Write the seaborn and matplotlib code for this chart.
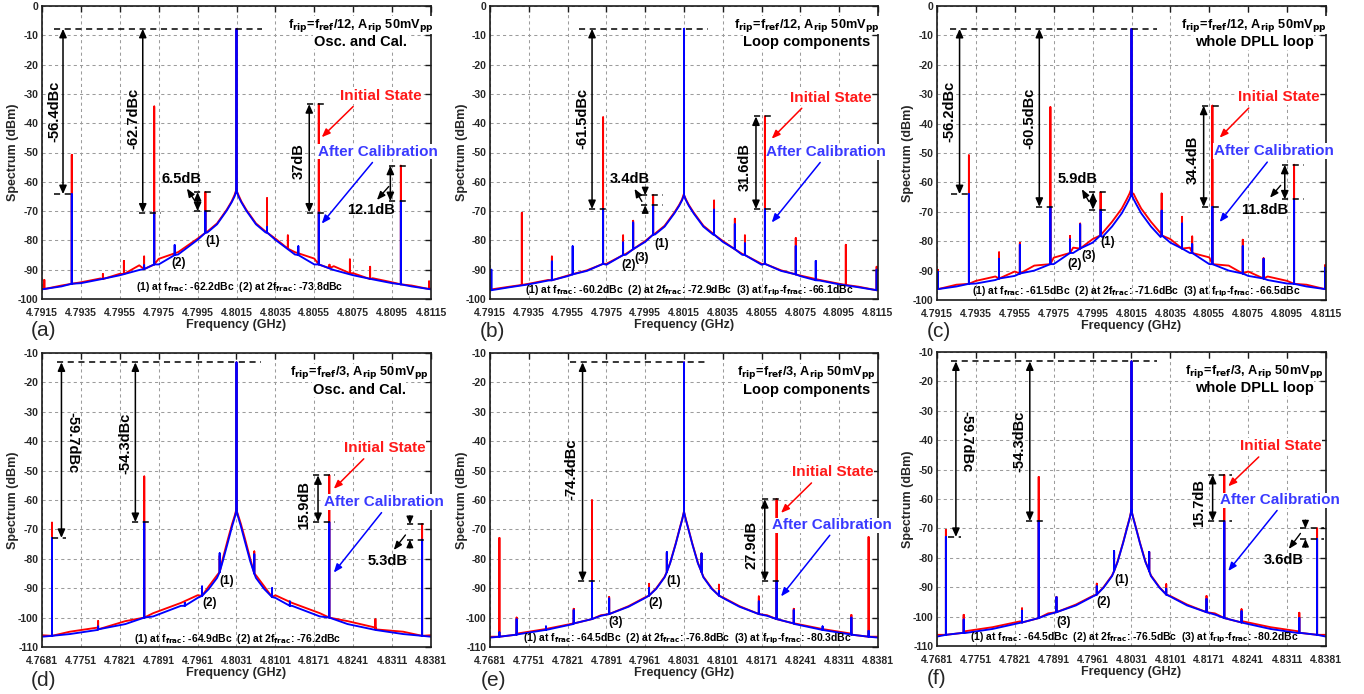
import numpy as np
import pandas as pd
import matplotlib
matplotlib.use("Agg")
import matplotlib.pyplot as plt
import seaborn as sns

nan = np.nan

# ---------------- axes data ----------------
TOP_CENTER = 4.8015   # carrier, GHz (ripple f_ref/12)
BOT_CENTER = 4.8031   # carrier, GHz (ripple f_ref/3)
TOP_XTICKS = ["4.7915", "4.7935", "4.7955", "4.7975", "4.7995", "4.8015",
              "4.8035", "4.8055", "4.8075", "4.8095", "4.8115"]
BOT_XTICKS = ["4.7681", "4.7751", "4.7821", "4.7891", "4.7961", "4.8031",
              "4.8101", "4.8171", "4.8241", "4.8311", "4.8381"]
TOP_YTICKS = [0, -10, -20, -30, -40, -50, -60, -70, -80, -90, -100]
BOT_YTICKS = [-10, -20, -30, -40, -50, -60, -70, -80, -90, -100, -110]

# ---------------- noise floors (offset from carrier in MHz, dBm) ----------------
TOP_FLOOR_OFF = [-10, -9, -8, -7, -6, -5, -4, -3, -2, -1.5, -1, -0.5, -0.25, -0.1, 0,
                 0.1, 0.25, 0.5, 1, 1.5, 2, 3, 4, 5, 6, 7, 8, 9, 10]
A_FLOOR_RED = [-96.4, -95.4, -94.3, -93.0, -91.4, -88.5, -86.3, -84.0, -79.4, -77.0, -74.2, -69.5, -66.7, -64.5, -62.5,
               -64.5, -66.7, -69.5, -74.2, -77.0, -79.4, -84.0, -86.2, -88.8, -91.2, -92.9, -94.3, -95.4, -96.4]
A_FLOOR_BLUE = [-96.7, -95.7, -94.6, -93.3, -91.9, -90.1, -88.2, -84.8, -79.8, -77.3, -74.5, -69.8, -67.0, -65.0, -63.0,
                -65.0, -67.0, -69.8, -74.5, -77.3, -79.8, -84.8, -88.2, -90.1, -91.9, -93.3, -94.6, -95.7, -96.7]
B_FLOOR_RED = [-96.8, -95.8, -94.8, -93.5, -92.0, -90.2, -88.0, -84.6, -80.2, -77.7, -75.0, -70.5, -67.9, -66.0, -64.0,
               -66.0, -67.9, -70.5, -75.0, -77.7, -80.2, -84.6, -88.0, -90.2, -92.0, -93.5, -94.8, -95.8, -96.8]
B_FLOOR_BLUE = [-97.0, -96.0, -95.0, -93.7, -92.2, -90.4, -88.3, -84.9, -80.5, -78.0, -75.3, -70.8, -68.2, -66.3, -64.5,
                -66.3, -68.2, -70.8, -75.3, -78.0, -80.5, -84.9, -88.3, -90.4, -92.2, -93.7, -95.0, -96.0, -97.0]
C_FLOOR_RED = [-96.0, -94.8, -93.5, -92.0, -90.3, -88.3, -85.6, -82.2, -79.3, -77.3, -73.4, -68.9, -65.8, -63.8, -62.0,
               -63.8, -65.8, -68.9, -73.4, -77.3, -79.3, -82.2, -85.5, -88.3, -90.3, -92.0, -93.5, -94.8, -96.0]
C_FLOOR_BLUE = [-96.3, -95.4, -94.4, -93.2, -91.8, -90.0, -87.8, -84.0, -80.5, -78.6, -75.0, -70.5, -67.5, -65.6, -64.0,
                -65.6, -67.5, -70.5, -75.0, -78.6, -80.5, -84.0, -87.8, -90.0, -91.8, -93.2, -94.4, -95.4, -96.3]

BOT_FLOOR_OFF = [-35, -30, -25, -20, -15, -10, -7, -5, -3.5, -2.5, -1.5, -0.8, -0.3, 0,
                 0.3, 0.8, 1.5, 2.5, 3.5, 5, 7, 10, 15, 20, 25, 30, 35]
D_FLOOR_RED = [-106.0, -104.8, -103.4, -101.2, -98.5, -95.0, -92.4, -89.4, -85.6, -80.2, -73.0, -68.2, -65.2, -63.0,
               -65.2, -68.2, -73.0, -80.2, -85.6, -89.4, -92.4, -95.0, -98.5, -101.2, -103.4, -104.8, -106.0]
D_FLOOR_BLUE = [-106.5, -105.6, -104.2, -102.2, -99.6, -96.0, -93.3, -90.3, -86.5, -81.0, -74.0, -69.0, -65.8, -63.5,
                -65.8, -69.0, -74.0, -81.0, -86.5, -90.3, -93.3, -96.0, -99.6, -102.2, -104.2, -105.6, -106.5]
E_FLOOR_RED = [-106.5, -105.4, -103.9, -102.0, -99.2, -96.1, -93.1, -90.0, -86.1, -81.3, -74.8, -69.8, -66.3, -63.8,
               -66.3, -69.8, -74.8, -81.3, -86.1, -90.0, -93.1, -96.1, -99.2, -102.0, -103.9, -105.4, -106.5]
E_FLOOR_BLUE = [-106.8, -105.7, -104.2, -102.2, -99.4, -96.3, -93.3, -90.2, -86.3, -81.5, -75.0, -70.0, -66.5, -64.0,
                -66.5, -70.0, -75.0, -81.5, -86.3, -90.2, -93.3, -96.3, -99.4, -102.2, -104.2, -105.7, -106.8]
F_FLOOR_RED = [-106.2, -105.0, -103.6, -101.6, -98.9, -95.9, -93.0, -89.9, -86.0, -81.2, -74.7, -69.7, -66.2, -63.5,
               -66.2, -69.7, -74.7, -81.2, -86.0, -89.9, -93.0, -95.9, -98.9, -101.6, -103.6, -105.0, -106.2]
F_FLOOR_BLUE = [-106.8, -105.6, -104.2, -102.1, -99.3, -96.2, -93.2, -90.1, -86.2, -81.4, -74.9, -69.9, -66.4, -63.8,
                -66.4, -69.9, -74.9, -81.4, -86.2, -90.1, -93.2, -96.2, -99.3, -102.1, -104.2, -105.6, -106.8]

# ---------------- tones: offset (MHz), peak red / blue (dBm), floor at tone ----------------
A_SPUR_OFF = [-9.88, -8.47, -6.87, -5.79, -4.75, -4.23, -3.18, -1.60, 0.0, 1.57, 2.64, 3.18, 4.23, 4.78, 5.83, 6.87, 8.45, 9.90]
A_SPUR_RED = [-93.5, -50.8, -91.5, -87.0, -85.5, -34.3, nan, -63.5, -7.8, -65.6, -78.3, nan, -33.5, -88.3, -86.5, -89.0, -54.5, -94.0]
A_SPUR_BLUE = [nan, -64.2, nan, nan, -88.5, -70.5, -81.6, -70.0, -7.8, -75.5, nan, -82.0, -70.5, nan, nan, nan, -66.6, nan]
A_SPUR_BASE = [-96.6, -94.8, -93.2, -91.5, -89.8, -88.2, -85.0, -77.4, -63.0, -77.3, -82.8, -85.0, -88.2, -89.5, -91.2, -93.2, -95.0, -96.6]

B_SPUR_OFF = [-9.93, -8.36, -6.81, -5.74, -4.17, -3.14, -2.62, -1.59, 0.0, 1.55, 2.62, 3.14, 4.17, 5.76, 6.79, 8.34, 9.93]
B_SPUR_RED = [nan, -70.6, -85.5, nan, -38.0, -78.3, -73.3, -64.6, -7.8, -66.4, -72.6, -78.3, -37.7, -79.2, nan, -81.5, -89.0]
B_SPUR_BLUE = [-90.0, nan, -87.2, -82.0, -69.3, -80.7, -73.9, -68.0, -7.8, -69.5, -74.5, -81.0, -69.3, -82.0, -87.0, nan, -90.0]
B_SPUR_BASE = [-97.0, -95.2, -93.6, -91.6, -88.0, -85.0, -83.0, -78.0, -64.5, -78.0, -83.0, -85.0, -88.0, -91.6, -93.6, -95.2, -97.0]

C_SPUR_OFF = [-9.95, -8.36, -6.81, -5.74, -4.17, -3.16, -2.64, -1.59, 0.0, 1.55, 2.60, 3.12, 4.16, 5.72, 6.79, 8.36, 9.95]
C_SPUR_RED = [-89.8, -50.8, -83.8, -80.6, -34.4, -78.2, -74.0, -63.4, -7.8, -63.8, -71.7, -78.4, -33.9, -79.5, -85.8, -54.0, -88.2]
C_SPUR_BLUE = [-90.5, -64.0, -86.0, -81.2, -68.3, -79.4, -74.3, -69.3, -7.8, -69.6, -74.0, -81.0, -68.3, -81.7, -86.0, -65.8, -89.0]
C_SPUR_BASE = [-96.3, -94.5, -92.7, -91.0, -87.8, -84.0, -82.5, -78.0, -64.0, -78.0, -82.5, -84.0, -87.8, -91.0, -92.7, -94.5, -96.3]

D_SPUR_OFF = [-33.2, -24.9, -16.6, -9.3, -6.2, -3.03, 0.0, 3.2, 6.4, 9.6, 16.7, 25.0, 33.4]
D_SPUR_RED = [-67.7, -101.2, -52.0, nan, -91.0, -79.0, -13.2, -77.5, -91.5, nan, -51.6, -100.6, -68.2]
D_SPUR_BLUE = [-72.9, -103.0, -67.5, -95.0, -89.4, -78.1, -13.2, -78.5, -90.0, -94.5, -67.5, nan, -73.5]
D_SPUR_BASE = [-106.2, -104.0, -100.0, -96.0, -92.6, -84.5, -63.5, -85.0, -93.0, -96.0, -100.0, -104.0, -106.2]

E_SPUR_OFF = [-33.3, -30.2, -24.9, -19.9, -16.6, -13.5, -6.3, -3.1, 0.0, 3.16, 6.3, 13.5, 16.7, 19.8, 25.0, 30.2, 33.3]
E_SPUR_RED = [-72.9, -100.0, nan, -97.0, -60.1, -93.0, -88.5, -78.0, -13.2, -78.2, -88.8, -92.8, -59.7, -97.0, nan, -99.1, -72.6]
E_SPUR_BLUE = [-105.0, -100.6, -103.0, -97.5, -87.6, -93.5, -90.0, -77.7, -13.2, -78.2, -91.0, -94.5, -87.6, -97.5, -103.0, -100.0, -104.5]
E_SPUR_BASE = [-106.5, -105.8, -104.2, -102.0, -100.5, -98.8, -92.5, -84.5, -64.0, -84.5, -92.5, -98.8, -100.5, -102.0, -104.2, -105.8, -106.5]

F_SPUR_OFF = [-33.4, -30.2, -19.7, -16.7, -13.5, -6.25, -3.13, 0.0, 3.19, 6.25, 13.5, 16.7, 19.8, 30.2, 33.4]
F_SPUR_RED = [-70.5, -99.4, -97.2, -52.5, -93.3, -88.8, -78.0, -13.2, -78.0, -89.0, -93.0, -51.8, -97.5, -98.7, -70.0]
F_SPUR_BLUE = [-72.9, -101.0, -98.0, -67.5, -93.4, -89.7, -77.7, -13.2, -78.0, -90.5, -94.0, -67.5, -98.2, -100.5, -73.6]
F_SPUR_BASE = [-106.2, -105.5, -102.0, -100.5, -98.5, -92.5, -84.5, -64.0, -84.5, -92.5, -98.5, -100.5, -102.0, -105.5, -106.2]

TITLE_TOP = "f$_{rip}$=f$_{ref}$/12, A$_{rip}$ 50mV$_{pp}$"
TITLE_BOT = "f$_{rip}$=f$_{ref}$/3, A$_{rip}$ 50mV$_{pp}$"
SUBTITLES = ["Osc. and Cal.", "Loop components", "whole DPLL loop"]

# ---------------- style ----------------
sns.set_style("white")
NARROW = "Liberation Sans Narrow"
plt.rcParams.update({
    "font.family": [NARROW, "Liberation Sans", "DejaVu Sans"],
    "font.weight": "bold",
    "axes.labelweight": "bold",
    "axes.unicode_minus": False,
    "mathtext.fontset": "custom",
    "mathtext.rm": NARROW + ":bold",
    "mathtext.it": NARROW + ":bold",
    "mathtext.bf": NARROW + ":bold",
    "mathtext.sf": NARROW + ":bold",
    "axes.edgecolor": "#1a1a1a",
    "axes.linewidth": 1.2,
})
RED, BLUE = "#ff0000", "#0000ff"
RED_TXT, BLUE_TXT = "#ff1a1a", "#3a3aff"

W, H = 1364, 694
fig = plt.figure(figsize=(W / 100, H / 100), dpi=100)


def box(l, t, r, b):
    return [l / W, 1 - b / H, (r - l) / W, (b - t) / H]


def at(c, off):
    return c + off * 1e-3


def trace_frame(center, f_off, f_lvl, s_off, s_peak, s_base):
    rows = [(o, 0, v) for o, v in zip(f_off, f_lvl)]
    for o, p, b in zip(s_off, s_peak, s_base):
        if np.isfinite(p):
            rows += [(o, 1, b), (o, 2, p), (o, 3, b)]
    rows.sort(key=lambda r: (r[0], r[1]))
    return pd.DataFrame({"freq": [at(center, r[0]) for r in rows],
                         "level": [r[2] for r in rows]})


def spectrum_panel(rect, center, xt, yt, f_off, f_red, f_blue, s_off, s_red, s_blue, s_base):
    ax = fig.add_axes(box(*rect))
    for lvl, peaks, col in ((f_red, s_red, RED), (f_blue, s_blue, BLUE)):
        df = trace_frame(center, f_off, lvl, s_off, peaks, s_base)
        sns.lineplot(data=df, x="freq", y="level", sort=False, estimator=None,
                     color=col, lw=1.35, ax=ax, legend=False)
    ax.set_xlim(float(xt[0]), float(xt[-1]))
    ax.set_ylim(yt[-1], yt[0])
    ax.set_xticks([float(t) for t in xt])
    ax.set_xticklabels(xt)
    ax.set_yticks(yt)
    ax.set_yticklabels([str(v) for v in yt])
    ax.grid(True, ls=(0, (3, 3)), color="#9c9c9c", lw=0.75)
    ax.set_axisbelow(True)
    ax.tick_params(direction="in", top=True, right=True, length=4, width=1.0,
                   labelsize=7.5, color="#1a1a1a")
    ax.tick_params(axis="x", pad=6.5)
    ax.tick_params(axis="y", pad=2.5)
    ax.set_xlabel("Frequency (GHz)", fontsize=9)
    ax.set_ylabel("Spectrum (dBm)", fontsize=9)
    hpx = rect[3] - rect[1]
    wpx = rect[2] - rect[0]
    ax.xaxis.set_label_coords(0.5, -20.0 / hpx)
    ax.yaxis.set_label_coords(-22.5 / wpx, 0.5)
    return ax


def dashed(ax, c, y, o0, o1):
    ax.plot([at(c, o0), at(c, o1)], [y, y], color="k", lw=1.1, ls=(0, (4, 3)), zorder=4)


def span_arrow(ax, c, o, y0, y1):
    ax.annotate("", xy=(at(c, o), y1), xytext=(at(c, o), y0),
                arrowprops=dict(arrowstyle="<|-|>,head_length=0.5,head_width=0.22", color="k",
                                lw=1.1, mutation_scale=10, shrinkA=0, shrinkB=0), zorder=5)


def squeeze_arrows(ax, c, o, y_hi, y_lo, L):
    for ys, ye in ((y_hi + L, y_hi), (y_lo - L, y_lo)):
        ax.annotate("", xy=(at(c, o), ye), xytext=(at(c, o), ys),
                    arrowprops=dict(arrowstyle="-|>,head_length=0.45,head_width=0.2", color="k",
                                    lw=1.0, mutation_scale=10, shrinkA=0, shrinkB=0), zorder=5)


def pointer(ax, c, o0, y0, o1, y1, color="k", lw=1.0):
    ax.annotate("", xy=(at(c, o1), y1), xytext=(at(c, o0), y0),
                arrowprops=dict(arrowstyle="-|>,head_length=0.5,head_width=0.2", color=color,
                                lw=lw, mutation_scale=10, shrinkA=0, shrinkB=0), zorder=5)


def label(ax, c, o, y, s, size=10.5, rot=0, color="k", white=False):
    kw = dict(bbox=dict(fc="white", ec="none", pad=0.5)) if white else {}
    ax.text(at(c, o), y, s, ha="center", va="center", rotation=rot, fontsize=size,
            color=color, zorder=6, **kw)


def dbc(v, car):
    return f"{v - car:.1f}dBc"


def ddb(r, b):
    return f"{round(r - b, 1):g}dB"


def header(ax, c, o, y1, y2, title, sub):
    label(ax, c, o, y1, title, size=9.2, white=True)
    label(ax, c, o, y2, sub, size=10.5, white=True)


def states(ax, c, ti, pi, tc, pc):
    label(ax, c, ti[0], ti[1], "Initial State", size=11, color=RED_TXT, white=True)
    pointer(ax, c, *pi, color=RED, lw=1.1)
    label(ax, c, tc[0], tc[1], "After Calibration", size=11, color=BLUE_TXT, white=True)
    pointer(ax, c, *pc, color=BLUE, lw=1.1)


def footnote(ax, c, o, y, car, v1, v2, v3=None):
    s = f"(1) at f$_{{frac}}$: {v1 - car:.1f}dBc  (2) at 2f$_{{frac}}$: {v2 - car:.1f}dBc"
    if v3 is not None:
        s += f"  (3) at f$_{{rip}}$-f$_{{frac}}$: {v3 - car:.1f}dBc"
    label(ax, c, o, y, s, size=7.5)


# ================= (a) =================
c = TOP_CENTER
ax = spectrum_panel((42, 6, 431, 299), c, TOP_XTICKS, TOP_YTICKS, TOP_FLOOR_OFF, A_FLOOR_RED, A_FLOOR_BLUE,
                    A_SPUR_OFF, A_SPUR_RED, A_SPUR_BLUE, A_SPUR_BASE)
r, b = A_SPUR_RED, A_SPUR_BLUE
car = b[8]
header(ax, c, 6.38, -6.5, -12.2, TITLE_TOP, SUBTITLES[0])
dashed(ax, c, car, -9.39, 1.30)
span_arrow(ax, c, -8.92, car, b[1]); dashed(ax, c, b[1], -9.39, -8.49)
label(ax, c, -9.36, -36, dbc(b[1], car), rot=90)
span_arrow(ax, c, -4.82, car, b[5]); dashed(ax, c, b[5], -5.0, -3.88)
label(ax, c, -5.30, -38.3, dbc(b[5], car), rot=90)
dashed(ax, c, r[7], -2.21, -1.13); dashed(ax, c, b[7], -2.21, -1.13)
span_arrow(ax, c, -2.0, r[7], b[7])
label(ax, c, -2.82, -59, ddb(r[7], b[7]))
pointer(ax, c, -2.17, -66.2, -2.55, -62.3)
dashed(ax, c, r[12], 3.62, 4.70); dashed(ax, c, b[12], 3.62, 4.70)
span_arrow(ax, c, 3.74, r[12], b[12])
label(ax, c, 3.18, -53, ddb(r[12], b[12]), rot=90)
dashed(ax, c, r[16], 7.83, 8.9); dashed(ax, c, b[16], 7.83, 8.9)
span_arrow(ax, c, 7.91, r[16], b[16])
label(ax, c, 6.9, -69.5, ddb(r[16], b[16]))
pointer(ax, c, 7.83, -61.6, 7.22, -66.2)
states(ax, c, (7.44, -30.7), (6.0, -34.3, 4.38, -44.8), (7.27, -49.7), (6.99, -53.4, 4.38, -74.3))
label(ax, c, -1.22, -80.3, "(1)", size=8.5)
label(ax, c, -2.96, -87.7, "(2)", size=8.5)
footnote(ax, c, 0.14, -95.9, car, b[7], b[6])

# ================= (b) =================
ax = spectrum_panel((490, 6, 878, 299), c, TOP_XTICKS, TOP_YTICKS, TOP_FLOOR_OFF, B_FLOOR_RED, B_FLOOR_BLUE,
                    B_SPUR_OFF, B_SPUR_RED, B_SPUR_BLUE, B_SPUR_BASE)
r, b = B_SPUR_RED, B_SPUR_BLUE
car = b[8]
header(ax, c, 6.34, -6.5, -12.2, TITLE_TOP, SUBTITLES[1])
dashed(ax, c, car, -5.40, 1.24)
span_arrow(ax, c, -4.74, car, b[4]); dashed(ax, c, b[4], -4.91, -3.81)
label(ax, c, -5.26, -38.3, dbc(b[4], car), rot=90)
dashed(ax, c, r[7], -2.21, -1.09); dashed(ax, c, b[7], -2.21, -1.09)
squeeze_arrows(ax, c, -2.0, r[7], b[7], 2.5)
label(ax, c, -2.79, -59, ddb(r[7], b[7]))
pointer(ax, c, -2.17, -66.7, -2.55, -62.4)
dashed(ax, c, r[12], 3.6, 4.69); dashed(ax, c, b[12], 3.6, 4.69)
span_arrow(ax, c, 3.71, r[12], b[12])
label(ax, c, 3.12, -54.8, ddb(r[12], b[12]), rot=90)
states(ax, c, (7.55, -31.3), (6.07, -34.9, 4.52, -45.3), (7.33, -49.9), (7.02, -53.4, 4.52, -73.9))
label(ax, c, -1.17, -81.1, "(1)", size=8.5)
label(ax, c, -2.86, -88.5, "(2)", size=8.5)
label(ax, c, -2.16, -86.0, "(3)", size=8.5)
footnote(ax, c, 0.29, -97.2, car, b[7], b[5], b[6])

# ================= (c) =================
ax = spectrum_panel((937, 6, 1326, 300), c, TOP_XTICKS, TOP_YTICKS, TOP_FLOOR_OFF, C_FLOOR_RED, C_FLOOR_BLUE,
                    C_SPUR_OFF, C_SPUR_RED, C_SPUR_BLUE, C_SPUR_BASE)
r, b = C_SPUR_RED, C_SPUR_BLUE
car = b[8]
header(ax, c, 6.31, -6.5, -12.2, TITLE_TOP, SUBTITLES[2])
dashed(ax, c, car, -9.31, 1.29)
span_arrow(ax, c, -8.84, car, b[1]); dashed(ax, c, b[1], -9.28, -8.36)
label(ax, c, -9.36, -36, dbc(b[1], car), rot=90)
span_arrow(ax, c, -4.74, car, b[4]); dashed(ax, c, b[4], -4.91, -3.88)
label(ax, c, -5.26, -38.3, dbc(b[4], car), rot=90)
dashed(ax, c, r[7], -2.19, -1.12); dashed(ax, c, b[7], -2.19, -1.12)
span_arrow(ax, c, -1.98, r[7], b[7])
label(ax, c, -2.79, -59, ddb(r[7], b[7]))
pointer(ax, c, -2.19, -66.5, -2.55, -62.3)
dashed(ax, c, r[12], 3.62, 4.71); dashed(ax, c, b[12], 3.62, 4.71)
span_arrow(ax, c, 3.71, r[12], b[12])
label(ax, c, 3.14, -52.3, ddb(r[12], b[12]), rot=90)
dashed(ax, c, r[15], 7.76, 8.88); dashed(ax, c, b[15], 7.76, 8.88)
span_arrow(ax, c, 7.88, r[15], b[15])
label(ax, c, 6.86, -69.3, ddb(r[15], b[15]))
pointer(ax, c, 7.67, -61.0, 7.12, -65.2)
states(ax, c, (7.55, -30.9), (6.03, -34.7, 4.53, -44.8), (7.33, -49.4), (6.98, -53.1, 4.53, -73.5))
label(ax, c, -1.21, -80.3, "(1)", size=8.5)
label(ax, c, -2.93, -87.7, "(2)", size=8.5)
label(ax, c, -2.19, -85.2, "(3)", size=8.5)
footnote(ax, c, 0.26, -97.2, car, b[7], b[5], b[6])

# ================= (d) =================
c = BOT_CENTER
ax = spectrum_panel((42, 353, 431, 647), c, BOT_XTICKS, BOT_YTICKS, BOT_FLOOR_OFF, D_FLOOR_RED, D_FLOOR_BLUE,
                    D_SPUR_OFF, D_SPUR_RED, D_SPUR_BLUE, D_SPUR_BASE)
r, b = D_SPUR_RED, D_SPUR_BLUE
car = b[6]
header(ax, c, 22.05, -16.8, -22.5, TITLE_BOT, SUBTITLES[0])
dashed(ax, c, car, -32.3, 4.47)
span_arrow(ax, c, -31.5, car, b[0]); dashed(ax, c, b[0], -33.2, -30.6)
label(ax, c, -29.6, -40.6, dbc(b[0], car), rot=-90)
span_arrow(ax, c, -18.2, car, b[2]); dashed(ax, c, b[2], -18.8, -15.1)
label(ax, c, -20.0, -40.6, dbc(b[2], car), rot=90)
dashed(ax, c, r[10], 13.8, 17.7); dashed(ax, c, b[10], 13.8, 17.7)
span_arrow(ax, c, 14.67, r[10], b[10])
label(ax, c, 12.2, -61.6, ddb(r[10], b[10]), rot=90)
dashed(ax, c, r[12], 30.6, 34.3); dashed(ax, c, b[12], 30.6, 34.3)
squeeze_arrows(ax, c, 31.2, r[12], b[12], 2.8)
label(ax, c, 27.2, -80.6, ddb(r[12], b[12]))
pointer(ax, c, 30.4, -71.9, 28.3, -77.0)
states(ax, c, (26.7, -42.3), (22.9, -46.0, 17.5, -56.2), (26.6, -60.7), (26.1, -64.3, 17.5, -84.7))
label(ax, c, -1.7, -87.4, "(1)", size=8.5)
label(ax, c, -4.9, -95.1, "(2)", size=8.5)
footnote(ax, c, 0.27, -107.4, car, b[5], b[4])

# ================= (e) =================
ax = spectrum_panel((490, 353, 878, 647), c, BOT_XTICKS, BOT_YTICKS, BOT_FLOOR_OFF, E_FLOOR_RED, E_FLOOR_BLUE,
                    E_SPUR_OFF, E_SPUR_RED, E_SPUR_BLUE, E_SPUR_BASE)
r, b = E_SPUR_RED, E_SPUR_BLUE
car = b[8]
header(ax, c, 22.1, -16.8, -22.5, TITLE_BOT, SUBTITLES[1])
dashed(ax, c, car, -20.5, 4.36)
span_arrow(ax, c, -18.3, car, b[4]); dashed(ax, c, b[4], -19.1, -15.2)
label(ax, c, -20.3, -49.7, dbc(b[4], car), rot=90)
dashed(ax, c, r[12], 14.0, 17.9); dashed(ax, c, b[12], 14.0, 17.9)
span_arrow(ax, c, 14.57, r[12], b[12])
label(ax, c, 12.2, -75.2, ddb(r[12], b[12]), rot=90)
states(ax, c, (26.8, -50.5), (23.0, -54.2, 17.5, -64.4), (26.7, -68.6), (26.3, -72.0, 17.5, -92.8))
label(ax, c, -1.8, -87.7, "(1)", size=8.5)
label(ax, c, -5.1, -95.0, "(2)", size=8.5)
label(ax, c, -12.4, -101.6, "(3)", size=8.5)
footnote(ax, c, 0.6, -107.3, car, b[7], b[6], b[5])

# ================= (f) =================
ax = spectrum_panel((937, 352, 1326, 646), c, BOT_XTICKS, BOT_YTICKS, BOT_FLOOR_OFF, F_FLOOR_RED, F_FLOOR_BLUE,
                    F_SPUR_OFF, F_SPUR_RED, F_SPUR_BLUE, F_SPUR_BASE)
r, b = F_SPUR_RED, F_SPUR_BLUE
car = b[7]
header(ax, c, 22.1, -16.5, -22.2, TITLE_BOT, SUBTITLES[2])
dashed(ax, c, car, -32.5, 4.5)
span_arrow(ax, c, -31.6, car, b[0]); dashed(ax, c, b[0], -33.1, -30.7)
label(ax, c, -29.8, -40.4, dbc(b[0], car), rot=-90)
span_arrow(ax, c, -18.3, car, b[3]); dashed(ax, c, b[3], -18.9, -15.3)
label(ax, c, -20.1, -40.4, dbc(b[3], car), rot=90)
dashed(ax, c, r[11], 13.8, 18.0); dashed(ax, c, b[11], 13.8, 18.0)
span_arrow(ax, c, 14.6, r[11], b[11])
label(ax, c, 12.1, -61.4, ddb(r[11], b[11]), rot=90)
dashed(ax, c, r[14], 30.4, 34.6); dashed(ax, c, b[14], 30.4, 34.6)
squeeze_arrows(ax, c, 31.3, r[14], b[14], 2.8)
label(ax, c, 27.4, -80.8, ddb(r[14], b[14]))
pointer(ax, c, 30.4, -71.7, 28.3, -77.0)
states(ax, c, (26.8, -41.9), (22.9, -45.7, 17.4, -55.7), (26.8, -60.5), (26.2, -63.9, 17.4, -84.5))
label(ax, c, -1.8, -87.6, "(1)", size=8.5)
label(ax, c, -5.0, -95.2, "(2)", size=8.5)
label(ax, c, -12.3, -101.8, "(3)", size=8.5)
footnote(ax, c, 0.5, -107.2, car, b[6], b[5], b[4])

# panel letters
for s, x, y in (("(a)", 43, 331), ("(b)", 492, 332), ("(c)", 939, 332),
                ("(d)", 44, 681), ("(e)", 493, 681), ("(f)", 937, 679)):
    fig.text(x / W, 1 - y / H, s, ha="center", va="center", fontsize=15,
             fontweight="normal", family=["Liberation Sans", "DejaVu Sans"])

fig.savefig("out.png", dpi=100)
